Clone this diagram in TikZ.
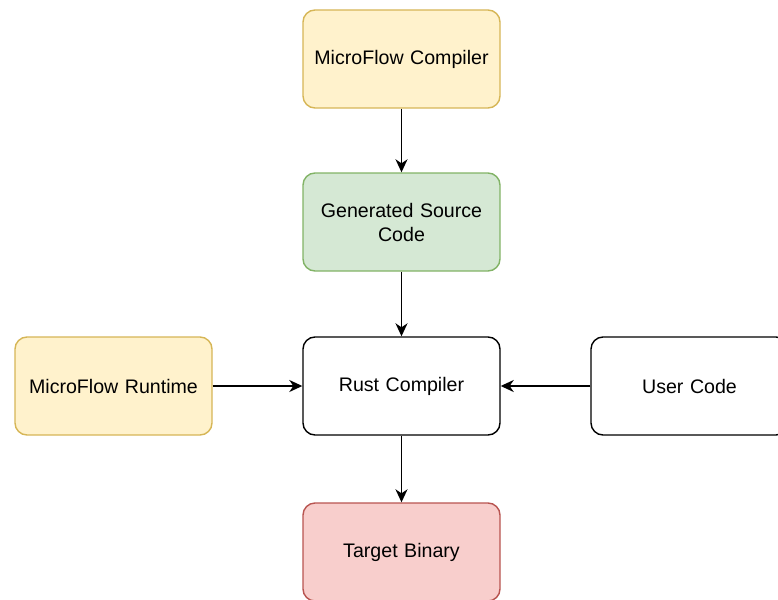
\documentclass[tikz,border=0pt]{standalone}
\usepackage{fontspec}
\setmainfont{Liberation Sans}
\usetikzlibrary{arrows.meta}
\definecolor{ylwfill}{HTML}{FFF2CC}
\definecolor{ylwline}{HTML}{D6B656}
\definecolor{grnfill}{HTML}{D5E8D4}
\definecolor{grnline}{HTML}{82B366}
\definecolor{redfill}{HTML}{F8CECC}
\definecolor{redline}{HTML}{B85450}
\begin{document}
\begin{tikzpicture}[x=1pt,y=-1pt,
  box/.style={draw, rounded corners=12pt, minimum width=197pt, minimum height=98pt,
    line width=1.4pt, align=center, text width=190pt,
    font=\fontsize{19.6}{24}\selectfont},
  yellowbox/.style={box, fill=ylwfill, draw=ylwline},
  greenbox/.style={box, fill=grnfill, draw=grnline},
  redbox/.style={box, fill=redfill, draw=redline},
  plainbox/.style={box, fill=white, draw=black},
  flow/.style={line width=1.7pt, -{Stealth[length=13pt,width=12pt,inset=4pt]}}]
\path[use as bounding box] (0,0) rectangle (778,599);
\clip (0,0) rectangle (778,599);
\node[yellowbox] (mfc) at (401.5,59) {MicroFlow Compiler};
\node[greenbox] (gen) at (401.5,222) {Generated Source\\Code};
\node[plainbox] (rust) at (401.5,386) {Rust Compiler};
\node[yellowbox] (rt) at (113.5,386) {MicroFlow Runtime};
\node[plainbox] (user) at (689.5,386) {User Code};
\node[redbox] (bin) at (401.5,552) {Target Binary};
\draw[flow] (mfc) -- (gen);
\draw[flow] (gen) -- (rust);
\draw[flow] (rt) -- (rust);
\draw[flow] (user) -- (rust);
\draw[flow] (rust) -- (bin);
\end{tikzpicture}
\end{document}
